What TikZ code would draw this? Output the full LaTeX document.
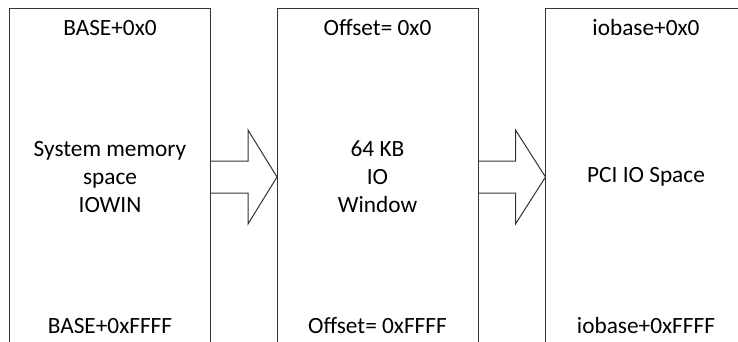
\documentclass[tikz,border=0pt]{standalone}
\usepackage{fontspec}
\setmainfont{Carlito}
\usetikzlibrary{positioning,calc}

\newcommand{\blockarrow}[2]{%
  \draw [fatarrow] ($(#1.north east)+(0,153)$) -- ++(37.5,0) -- ++(0,-31)
    -- ($(#2.north west)+(0,169)$)
    -- ($(#1.north east)+(37.5,216)$) -- ++(0,-31) -- ($(#1.north east)+(0,185)$);}

\begin{document}
\begin{tikzpicture}[
        x=1pt, y=-1pt,
        node distance=66.5pt,
        region/.style={rectangle, draw=black!80, line width=1pt, outer sep=0pt, minimum width=201pt, minimum height=400pt, anchor=north west},
        addr/.style={anchor=base, inner sep=0pt},
        body/.style={align=center, inner sep=0pt},
        fatarrow/.style={draw=black!80, line width=1pt, line join=miter}
    ]
        \useasboundingbox [fill=white] (0,0) rectangle (738,341);
        \clip (0,0) rectangle (738,341);
        \fontsize{23.3}{28}\selectfont

        \node [region] (sysmem) at (9.5,8) {};
        \node [region, right=of sysmem] (iowin) {};
        \node [region, right=67.5pt of iowin] (pciio) {};

        \node [addr] (sysmemtop) at ($(sysmem.north)+(0,27)$) {BASE+0x0};
        \node [addr] (sysmembot) at ($(sysmem.north)+(0,325)$) {BASE+0xFFFF};
        \node [addr] (iowintop) at ($(iowin.north)+(0,27)$) {Offset= 0x0};
        \node [addr] (iowinbot) at ($(iowin.north)+(0,325)$) {Offset= 0xFFFF};
        \node [addr] (pciiotop) at ($(pciio.north)+(0,27)$) {iobase+0x0};
        \node [addr] (pciiobot) at ($(pciio.north)+(0,325)$) {iobase+0xFFFF};

        \node [body] (sysmemtxt) at ($(sysmem.north)+(0,169)$) {System memory\\space\\IOWIN};
        \node [body] (iowintxt) at ($(iowin.north)+(0,169)$) {64 KB\\IO\\Window};
        \node [body] (pciiotxt) at ($(pciio.north)+(0,169)$) {PCI IO Space};

        \blockarrow{sysmem}{iowin}
        \blockarrow{iowin}{pciio}
    \end{tikzpicture}
\end{document}
